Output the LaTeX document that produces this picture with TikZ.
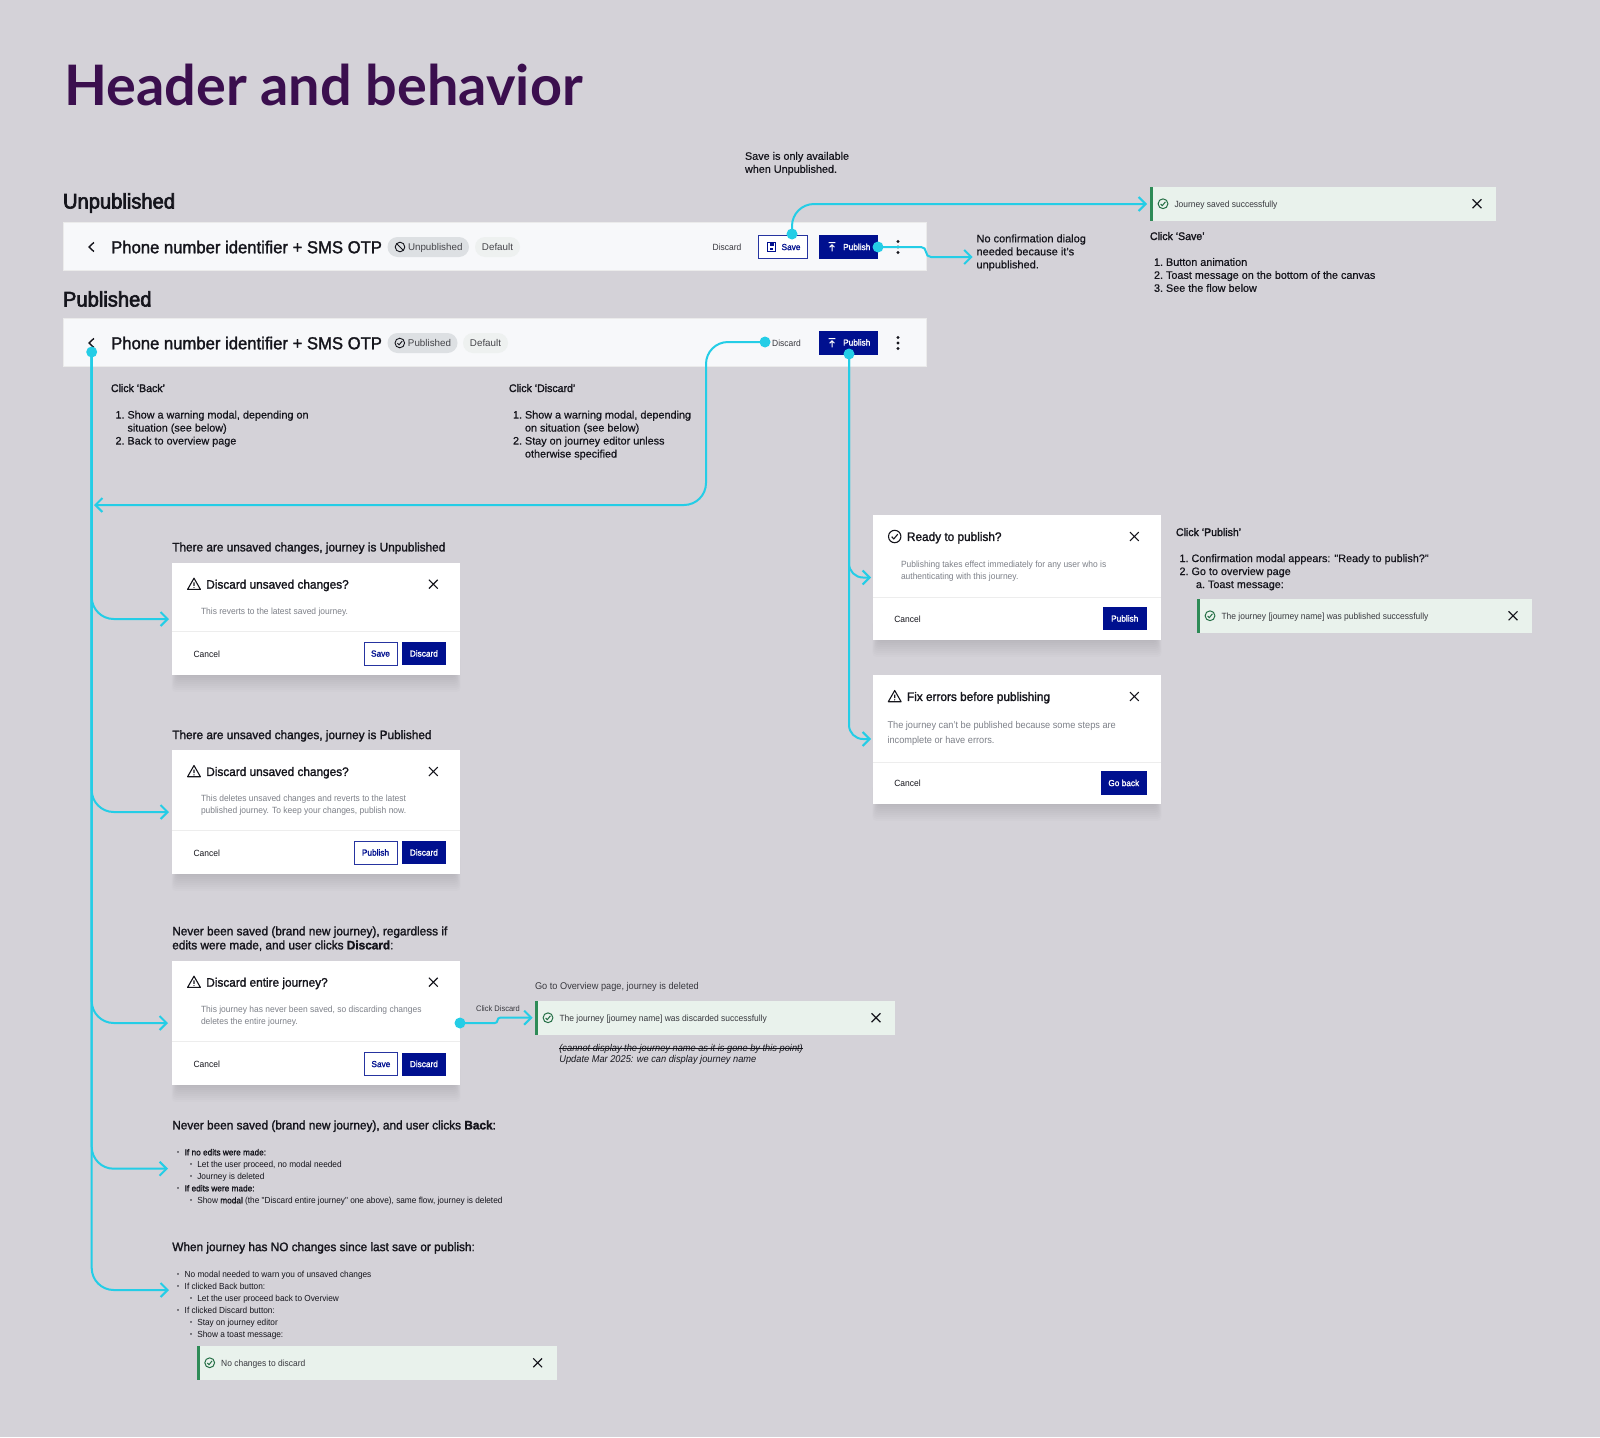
\documentclass[tikz,border=0pt]{standalone}
\usepackage{fontspec}
\usetikzlibrary{arrows.meta,calc}
\setmainfont{Liberation Sans}
\newfontfamily\titlefont{Lato}
\newfontfamily\headfont[FakeBold=3,FakeStretch=0.96]{Liberation Sans}
\newfontfamily\medfont[FakeBold=1.6,FakeStretch=0.96]{Liberation Sans}
\newfontfamily\listfont[FakeBold=0.5]{Liberation Sans}
\newfontfamily\narrowfont[FakeStretch=0.94]{Liberation Sans}
\newfontfamily\medsmall[FakeBold=1.4,FakeStretch=0.94]{Liberation Sans}
\newcommand{\fsz}[2]{\fontsize{#1pt}{#2pt}\selectfont}
\newcommand{\li}[1]{\makebox[12pt][l]{#1}}
\definecolor{bgc}{HTML}{D4D2D8}
\definecolor{titlec}{HTML}{3B0F4E}
\definecolor{barc}{HTML}{F7F8FA}
\definecolor{navy}{HTML}{00108F}
\definecolor{flowc}{HTML}{24CDE6}
\definecolor{toastc}{HTML}{E9F2EC}
\definecolor{greenc}{HTML}{2E8B57}
\definecolor{inkc}{HTML}{15151C}
\definecolor{greyc}{HTML}{7D8088}
\definecolor{chipa}{HTML}{DDE0E3}
\definecolor{chipb}{HTML}{EEF1F0}
\tikzset{
  txt/.style={inner sep=0pt,outer sep=0pt,text=inkc,anchor=west,align=left,font=\listfont\fsz{10.82}{13}},
  heading/.style={txt,text height=15pt,text depth=0pt,font=\headfont\fsz{21}{24}},
  sub/.style={txt,text height=8.8pt,text depth=0pt,font=\medfont\fsz{12.3}{14}},
  clicklabel/.style={txt,text height=8pt,text depth=0pt,font=\medfont\fsz{11}{13}},
  apptitle/.style={txt,text height=12.5pt,text depth=0pt,font=\medfont\fsz{17.35}{20}},
  modaltitle/.style={txt,text height=8.9pt,text depth=0pt,font=\medfont\fsz{12.3}{14}},
  body/.style={txt,text=greyc,font=\narrowfont\fsz{9}{12}},
  small/.style={txt,text height=6.5pt,text depth=0pt,font=\narrowfont\fsz{9}{12}},
  bullets/.style={txt,anchor=north west,font=\narrowfont\fsz{8.8}{12}},
  tlabel/.style={txt,text height=6.5pt,text depth=0pt,font=\narrowfont\fsz{9}{12},text=inkc!85},
  barbox/.style={inner sep=0pt,outer sep=0pt,fill=barc,draw=white!92!black,line width=.5pt,anchor=north west,minimum width=863.5pt,minimum height=48pt},
  modalbox/.style={inner sep=0pt,outer sep=0pt,fill=white,anchor=north west},
  toastbox/.style={inner sep=0pt,outer sep=0pt,fill=toastc,anchor=north west,minimum height=33.5pt},
  chip/.style={inner sep=0pt,outer sep=0pt,rounded corners=10pt,minimum height=20pt,anchor=west,text height=7pt,text depth=0pt,font=\fsz{9.8}{12},text=inkc!80},
  btn/.style={inner sep=0pt,outer sep=0pt,anchor=north west,minimum height=23pt,text height=6.2pt,text depth=0pt,font=\medsmall\fsz{8.8}{10}},
  btnsolid/.style={btn,fill=navy,text=white},
  btnoutline/.style={btn,fill=white,draw=navy!85!white,line width=1pt,text=navy},
  flow/.style={draw=flowc,line width=2pt,rounded corners=22pt},
  flowtip/.style={flow,-{Straight Barb[length=7pt,width=14pt,line width=2pt]}},
  jog/.style={flowtip,rounded corners=5pt},
  dotnode/.style={circle,fill=flowc,inner sep=0pt,outer sep=0pt,minimum size=11pt},
  closex/.pic={\draw[line width=1.1pt,draw=inkc] (-4.4,-4.4) -- (4.4,4.4) (-4.4,4.4) -- (4.4,-4.4);},
  warnicon/.pic={\draw[line width=1.1pt,draw=inkc,line join=round] (0,-6) -- (6.4,5.2) -- (-6.4,5.2) -- cycle (0,-1.8) -- (0,1.6); \fill[inkc] (0,3.3) circle (.7);},
  checkicon/.pic={\draw[line width=1.1pt,draw=inkc] (0,0) circle (6.2) (-3,.2) -- (-.9,2.4) -- (3.1,-2.4);},
  okicon/.pic={\draw[line width=1pt,draw=greenc!80!black] (0,0) circle (4.9) (-2.4,.2) -- (-.7,1.9) -- (2.4,-1.9);},
  banicon/.pic={\draw[line width=.9pt,draw=inkc] (0,0) circle (4.8) (-3.3,-3.3) -- (3.3,3.3);},
  chkchip/.pic={\draw[line width=.9pt,draw=inkc] (0,0) circle (4.8) (-2.3,.2) -- (-.7,1.8) -- (2.4,-1.9);},
  saveicon/.pic={\draw[navy,line width=1.1pt] (-4,-4.4) rectangle (4,4.4); \fill[navy] (-2,-3.8) rectangle (2,-1.2); \fill[navy] (-1.5,.8) rectangle (1.5,3.2);},
  pubicon/.pic={\draw[line width=1pt,draw=white] (-3.4,-4.4) -- (3.4,-4.4) (0,4.4) -- (0,-2.2) (-2.4,.2) -- (0,-2.2) -- (2.4,.2);},
  kebab/.pic={\fill[inkc] (0,-5.5) circle (1.7) (0,0) circle (1.7) (0,5.5) circle (1.7);},
  chevron/.pic={\draw[line width=1.4pt,draw=inkc] (2.4,-4.6) -- (-2.4,0) -- (2.4,4.6);},
}
% name, x, y, width, text
\newcommand{\Toast}[5]{%
  \node[toastbox,minimum width=#4pt] (#1) at (#2,#3) {};
  \fill[greenc] (#1.north west) rectangle ($(#1.south west)+(3,0)$);
  \pic at ($(#1.west)+(13,0)$) {okicon};
  \node[tlabel] (#1text) at ($(#1.west)+(24.5,0)$) {#5};
  \pic at ($(#1.east)+(-19,0)$) {closex};
}
% name, x, y, w, h, icon, title, divider offset, cancel offset
\newcommand{\Modal}[9]{%
  \foreach \s in {1,3,...,17} {\fill[black,opacity=.012,rounded corners=4pt] ({#2+5-\s/3},{#3+#5-20}) rectangle ({#2+#4-5+\s/3},{#3+#5+\s});}
  \node[modalbox,minimum width=#4pt,minimum height=#5pt] (#1) at (#2,#3) {};
  \pic at ({#2+21.7},{#3+21.5}) {#6};
  \node[modaltitle] (#1title) at ({#2+34},{#3+21.5}) {#7};
  \pic at ({#2+#4-26.7},{#3+21.5}) {closex};
  \draw[line width=1pt,draw=black!7] (#2,{#3+#8}) -- ({#2+#4},{#3+#8});
  \node[small] (#1cancel) at ({#2+21.3},{#3+#9}) {Cancel};
}
\begin{document}
\begin{tikzpicture}[x=1pt,y=-1pt]
\fill[bgc] (0,0) rectangle (1600,1437);
\node[txt,anchor=base west,text=titlec,font=\titlefont\bfseries\fsz{55.8}{66}] (pagetitle) at (64.5,105.3) {Header and behavior};

% ---- Unpublished bar
\node[heading] (h1) at (63,201) {Unpublished};
\node[barbox] (bar1) at (63,222.5) {};
\pic at (91.5,247) {chevron};
\node[apptitle] (bar1title) at (111.2,247) {Phone number identifier + SMS OTP};
\node[chip,fill=chipa,minimum width=81.5pt] (chipun) at (387.5,247) {\hspace*{14pt}Unpublished};
\pic at (400,247) {banicon};
\node[chip,fill=chipb,minimum width=45pt] (chipdefa) at (475,247) {Default};
\node[tlabel,anchor=center] (discardA) at (727,247) {Discard};
\node[btnoutline,line width=1.4pt,minimum width=49pt,minimum height=23pt] (saveA) at (758.5,235.5) {\hspace*{16pt}Save};
\pic at (771.5,247) {saveicon};
\node[btnsolid,minimum width=59.5pt,minimum height=24pt] (pubA) at (818.5,235) {\hspace*{17pt}Publish};
\pic at (832,247) {pubicon};
\pic at (898,247) {kebab};

% ---- Published bar
\node[heading] (h2) at (63,299) {Published};
\node[barbox] (bar2) at (63,318.7) {};
\pic at (91.5,343) {chevron};
\node[apptitle] (bar2title) at (111.2,343) {Phone number identifier + SMS OTP};
\node[chip,fill=chipa,minimum width=70pt] (chippub) at (387.5,343) {\hspace*{14pt}Published};
\pic at (399.8,343) {chkchip};
\node[chip,fill=chipb,minimum width=45pt] (chipdefb) at (463,343) {Default};
\node[tlabel,anchor=center] (discardB) at (786.5,343) {Discard};
\node[btnsolid,minimum width=59.5pt,minimum height=24pt] (pubB) at (818.5,330.5) {\hspace*{17pt}Publish};
\pic at (832,343) {pubicon};
\pic at (898,343) {kebab};

% ---- annotations top
\node[txt] (savenote) at (745,163.5) {Save is only available\\when Unpublished.};
\node[txt,font=\listfont\fsz{11}{13}] (noconfirm) at (976.5,252.5) {No confirmation dialog\\needed because it’s\\unpublished.};
\Toast{toastsave}{1150}{187}{346}{Journey saved successfully}
\node[clicklabel] (clicksave) at (1150,236) {Click ‘Save’};
\node[txt,anchor=north west] (savelist) at (1154,258) {\li{1.}Button animation\\\li{2.}Toast message on the bottom of the canvas\\\li{3.}See the flow below};

\node[clicklabel] (clickback) at (111,388) {Click ‘Back’};
\node[txt,anchor=north west] (backlist) at (115.5,410.7) {\li{1.}Show a warning modal, depending on\\\hspace*{12pt}situation (see below)\\\li{2.}Back to overview page};
\node[clicklabel] (clickdiscard) at (509,388) {Click ‘Discard’};
\node[txt,anchor=north west] (discardlist) at (513,410.7) {\li{1.}Show a warning modal, depending\\\hspace*{12pt}on situation (see below)\\\li{2.}Stay on journey editor unless\\\hspace*{12pt}otherwise specified};

% ---- left modals
\node[sub] (casea) at (172.3,547) {There are unsaved changes, journey is Unpublished};
\Modal{ma}{172.3}{562.7}{287.7}{112.3}{warnicon}{Discard unsaved changes?}{69}{91.3}
\node[body] (mabody) at (201,612.5) {This reverts to the latest saved journey.};
\node[btnoutline,minimum width=33pt] (masave) at (364,642) {Save};
\node[btnsolid,minimum width=43.7pt] (madiscard) at (402,642) {Discard};

\node[sub] (caseb) at (172.3,734.7) {There are unsaved changes, journey is Published};
\Modal{mb}{172.3}{750}{287.7}{124}{warnicon}{Discard unsaved changes?}{80.7}{103}
\node[body] (mbbody) at (201,805.5) {This deletes unsaved changes and reverts to the latest\\published journey. To keep your changes, publish now.};
\node[btnoutline,minimum width=43pt] (mbpub) at (354,841) {Publish};
\node[btnsolid,minimum width=43.7pt] (mbdiscard) at (402,841) {Discard};

\node[txt,font=\medfont\fsz{12.3}{14}] (casec) at (172.3,938.7) {Never been saved (brand new journey), regardless if\\edits were made, and user clicks \textbf{Discard}:};
\Modal{mc}{172.3}{960.7}{287.7}{124.3}{warnicon}{Discard entire journey?}{81}{103.3}
\node[body] (mcbody) at (201,1016.5) {This journey has never been saved, so discarding changes\\deletes the entire journey.};
\node[btnoutline,minimum width=33pt] (mcsave) at (364.4,1052.5) {Save};
\node[btnsolid,minimum width=43.7pt] (mcdiscard) at (402,1052.5) {Discard};

\node[tlabel,anchor=center,font=\narrowfont\fsz{8}{10}] (clickdisc) at (498,1008) {Click Discard};
\node[tlabel,font=\narrowfont\fsz{9.8}{12}] (gotoov) at (535,986) {Go to Overview page, journey is deleted};
\Toast{toastdisc}{535}{1001}{360}{The journey [journey name] was discarded successfully}
\node[small,text=inkc,font=\narrowfont\itshape\fsz{9.85}{12}] (strike) at (559.4,1048) {(cannot display the journey name as it is gone by this point)};
\draw[line width=.7pt,draw=inkc] (strike.west) -- (strike.east);
\node[small,text=inkc,font=\narrowfont\itshape\fsz{9.85}{12}] (update) at (559.4,1059) {Update Mar 2025: we can display journey name};

\node[sub] (cased) at (172.3,1125) {Never been saved (brand new journey), and user clicks \textbf{Back}:};
\newcommand{\bulA}{\makebox[7.7pt][l]{\raisebox{.5pt}{\scalebox{.7}{•}}}}
\newcommand{\bulB}{\hspace*{13pt}\makebox[7.3pt][l]{\raisebox{.5pt}{\scalebox{.7}{•}}}}
\node[bullets] (caselist) at (177,1149) {\bulA{\medsmall If no edits were made:}\\\bulB Let the user proceed, no modal needed\\\bulB Journey is deleted\\\bulA{\medsmall If edits were made:}\\\bulB Show {\medsmall modal} (the "Discard entire journey" one above), same flow, journey is deleted};

\node[sub] (casee) at (172.3,1246.7) {When journey has NO changes since last save or publish:};
\node[bullets] (caselist2) at (177,1271) {\bulA No modal needed to warn you of unsaved changes\\\bulA If clicked Back button:\\\bulB Let the user proceed back to Overview\\\bulA If clicked Discard button:\\\bulB Stay on journey editor\\\bulB Show a toast message:};
\Toast{toastnone}{196.7}{1346}{360}{No changes to discard}

% ---- right modals
\Modal{md}{873}{515}{288}{125}{checkicon}{Ready to publish?}{82}{104}
\node[body] (mdbody) at (901,571.5) {Publishing takes effect immediately for any user who is\\authenticating with this journey.};
\node[btnsolid,minimum width=43.5pt] (mdpub) at (1103,607) {Publish};
\Modal{me}{873}{675}{288}{129}{warnicon}{Fix errors before publishing}{87}{108}
\node[body,font=\narrowfont\fsz{9.8}{15}] (mebody) at (887.5,733) {The journey can’t be published because some steps are\\incomplete or have errors.};
\node[btnsolid,minimum width=45.5pt,minimum height=24pt] (meback) at (1101,771) {Go back};
\node[clicklabel] (clickpub) at (1176,532) {Click ‘Publish’};
\node[txt,anchor=north west] (publist) at (1179.5,554.2) {\li{1.}Confirmation modal appears: "Ready to publish?"\\\li{2.}Go to overview page\\\hspace*{16.5pt}\li{a.}Toast message:};
\Toast{toastpub}{1197}{599}{335}{The journey [journey name] was published successfully}

% ---- connector anchors
\node[dotnode] (dsave) at (792,234) {};
\node[dotnode] (dpubA) at (878,247) {};
\node[dotnode] (ddiscB) at (765,342) {};
\node[dotnode] (dpubB) at (849,354) {};
\node[dotnode] (dback) at (91.7,352) {};
\node[dotnode] (dmc) at (460,1023) {};
\coordinate (tsave) at (1147,204);
\coordinate (tconfirm) at (972.6,257);
\coordinate (tdiscard) at (94,505);
\coordinate (cdiscard) at (706,505);
\coordinate (tma) at (169,619);
\coordinate (tmb) at (169,812);
\coordinate (tmc) at (168,1023);
\coordinate (tbk) at (168,1168.7);
\coordinate (tno) at (169,1290);
\coordinate (tmd) at (871,577.5);
\coordinate (tme) at (871,739);
\coordinate (tdisc) at (532.6,1017.7);

% ---- connectors
\draw[flowtip] (dsave.center) |- (tsave);
\draw[jog] (dpubA.center) -- ++(48,0) |- (tconfirm);
\draw[flowtip] (ddiscB.center) -| (cdiscard) -- (tdiscard);
\draw[flowtip] (dback.center) |- (tma);
\draw[flowtip] (dback.center) |- (tmb);
\draw[flowtip] (dback.center) |- (tmc);
\draw[flowtip] (dback.center) |- (tbk);
\draw[flowtip] (dback.center) |- (tno);
\draw[flowtip,rounded corners=14pt] (dpubB.center) |- (tmd);
\draw[flowtip,rounded corners=14pt] (dpubB.center) |- (tme);
\draw[jog,rounded corners=2.6pt] (dmc.center) -- ++(37.5,0) |- (tdisc);
\end{tikzpicture}
\end{document}
